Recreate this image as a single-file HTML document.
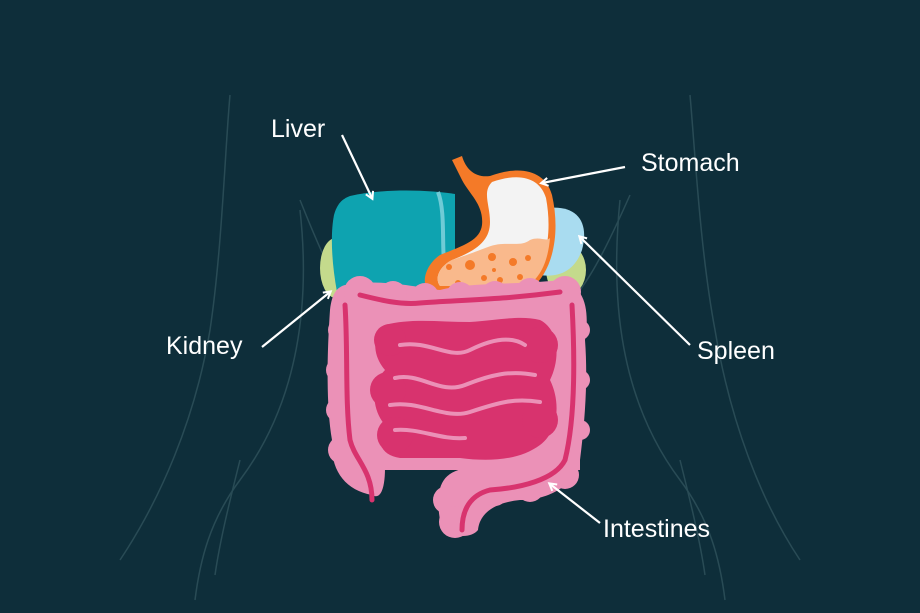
<!DOCTYPE html>
<html><head><style>
html,body{margin:0;padding:0;background:#0e2e3a;}
svg{display:block}
text{font-family:"Liberation Sans",sans-serif;fill:#fff;font-size:25px}
</style></head><body>
<svg width="920" height="613" viewBox="0 0 920 613" xmlns="http://www.w3.org/2000/svg">
<rect width="920" height="613" fill="#0e2e3a"/>
<defs>
<marker id="ah" markerWidth="10" markerHeight="10" refX="7" refY="5" orient="auto" markerUnits="userSpaceOnUse"><path d="M1,1 L8,5 L1,9" fill="none" stroke="#fff" stroke-width="2"/></marker>
</defs>
<g fill="none" stroke="#2c4f59" stroke-width="1.5" opacity="0.9">
<path d="M230,95 C225,150 222,250 210,330 C195,420 160,500 120,560"/>
<path d="M300,210 C310,300 300,400 240,480 C210,520 200,560 195,600"/>
<path d="M300,200 C320,250 330,270 340,290"/>
<path d="M690,95 C695,150 700,250 715,330 C730,420 760,500 800,560"/>
<path d="M620,200 C610,300 620,400 680,480 C710,520 720,560 725,600"/>
<path d="M630,195 C610,240 595,270 580,290"/>
<path d="M240,460 C230,500 220,540 215,575"/>
<path d="M680,460 C690,500 700,540 705,575"/>
</g>
<ellipse cx="336" cy="268" rx="16" ry="30" fill="#c4da8c"/>
<ellipse cx="566" cy="270" rx="20" ry="26" fill="#c4da8c"/>
<path d="M548,208 C575,205 590,220 582,250 C575,270 560,278 540,275 Z" fill="#a9dcf0"/>
<!-- liver -->
<path d="M350,196 C385,188 430,190 455,194 L455,285 C430,292 380,294 337,292 C332,265 330,235 334,215 C337,204 342,199 350,196 Z" fill="#0ea3b0"/>
<path d="M438,192 C445,210 442,240 444,262" stroke="#6fcbd6" stroke-width="4" fill="none"/>
<!-- stomach -->
<path d="M452,160 L462,156 C466,170 476,178 490,176 C520,165 545,170 552,195 C560,230 555,270 530,290 L430,292 C420,285 425,265 440,255 C465,245 480,240 482,225 C484,205 470,195 462,180 Z" fill="#f47a28"/>
<path d="M492,182 C520,172 540,178 546,198 C552,230 548,265 527,285 L440,286 C434,278 440,266 452,260 C478,250 490,240 490,222 C490,205 482,192 492,182 Z" fill="#f3f3f3"/>
<path d="M488,247 C505,240 520,248 530,240 C540,236 546,242 550,238 C548,262 540,278 527,286 L440,286 C434,278 440,266 452,260 C470,254 480,250 488,247 Z" fill="#f9b98c"/>
<g fill="#f47a28"><circle cx="449" cy="267" r="3"/><circle cx="470" cy="265" r="5"/><circle cx="492" cy="257" r="4"/><circle cx="513" cy="262" r="4"/><circle cx="528" cy="258" r="3"/><circle cx="458" cy="283" r="3"/><circle cx="484" cy="278" r="3"/><circle cx="500" cy="280" r="3"/><circle cx="520" cy="277" r="3"/><circle cx="494" cy="270" r="2"/></g>
<!-- large intestine -->
<g fill="#eb91b7">
<path d="M345,285 C380,278 420,288 440,290 C470,282 520,285 560,280 C585,285 590,310 585,340 C588,380 585,420 580,460 C575,485 550,500 520,500 C500,502 480,510 478,530 C470,540 445,538 440,520 C435,490 440,470 470,468 L385,468 C385,490 380,500 372,495 C345,490 330,470 332,440 C325,400 328,340 330,310 C332,292 338,287 345,285 Z"/>
<circle cx="360" cy="292" r="16"/><circle cx="393" cy="295" r="14"/><circle cx="425" cy="297" r="14"/><circle cx="460" cy="296" r="14"/><circle cx="495" cy="295" r="14"/><circle cx="530" cy="292" r="14"/><circle cx="565" cy="292" r="16"/>
<circle cx="340" cy="330" r="12"/><circle cx="338" cy="370" r="12"/><circle cx="338" cy="410" r="12"/><circle cx="342" cy="450" r="14"/><circle cx="365" cy="470" r="16"/>
<circle cx="580" cy="330" r="10"/><circle cx="580" cy="380" r="10"/><circle cx="580" cy="430" r="10"/><circle cx="565" cy="475" r="14"/><circle cx="530" cy="488" r="14"/><circle cx="495" cy="494" r="12"/>
<circle cx="447" cy="500" r="14"/><circle cx="455" cy="522" r="16"/>
<rect x="340" y="300" width="240" height="170"/>
</g>
<!-- small intestine -->
<g fill="#d8336e">
<path d="M385,325 C410,318 440,322 470,322 C500,320 520,315 540,320 C560,330 560,360 550,380 C560,400 560,430 540,445 C520,460 490,462 460,458 L400,458 C380,455 375,440 385,425 C372,410 370,385 385,370 C372,355 372,335 385,325 Z"/>
<circle cx="540" cy="345" r="18"/><circle cx="390" cy="340" r="16"/><circle cx="388" cy="390" r="18"/><circle cx="395" cy="435" r="18"/><circle cx="540" cy="420" r="18"/>
</g>
<g fill="none" stroke="#eb91b7" stroke-width="4" stroke-linecap="round">
<path d="M400,345 C430,340 450,360 470,350 C490,340 510,335 525,345"/>
<path d="M395,378 C420,372 440,395 465,385 C490,375 510,370 535,375"/>
<path d="M390,405 C420,400 445,420 470,412 C500,402 515,398 540,402"/>
<path d="M395,430 C420,428 440,440 465,438"/>
</g>
<g fill="none" stroke="#d8336e" stroke-width="5" stroke-linecap="round">
<path d="M360,295 C380,300 400,305 420,303 C460,300 500,300 560,292"/>
<path d="M345,305 C348,350 345,400 350,440 C355,460 372,470 372,500"/>
<path d="M572,305 C575,360 575,420 565,460 C555,480 520,488 490,490 C470,495 462,510 462,530"/>
</g>
<g stroke="#fff" stroke-width="2.2" fill="none" marker-end="url(#ah)">
<line x1="342" y1="135" x2="372" y2="198"/>
<line x1="625" y1="167" x2="542" y2="183"/>
<line x1="262" y1="347" x2="330" y2="292"/>
<line x1="690" y1="345" x2="580" y2="237"/>
<line x1="600" y1="523" x2="550" y2="484"/>
</g>
<text x="271" y="137">Liver</text>
<text x="641" y="171">Stomach</text>
<text x="166" y="354">Kidney</text>
<text x="697" y="359">Spleen</text>
<text x="603" y="537">Intestines</text>
</svg>
</body></html>
